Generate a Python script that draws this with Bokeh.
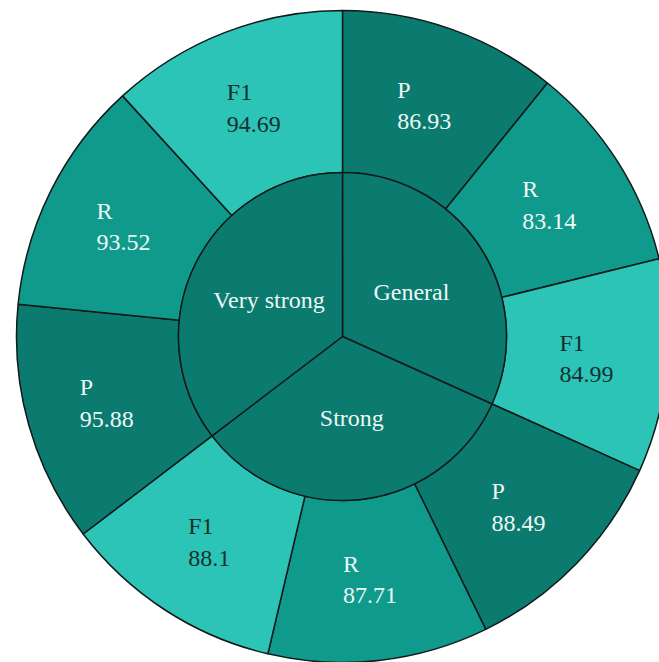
import math
from bokeh.plotting import figure
from bokeh.models import Range1d, ColumnDataSource
from bokeh.core.properties import value
from bokeh.embed import file_html
from bokeh.resources import INLINE

# ---- data ----
groups = ["General", "Strong", "Very strong"]
metrics = ["P", "R", "F1"]
general_values = [86.93, 83.14, 84.99]
strong_values = [88.49, 87.71, 88.1]
very_strong_values = [95.88, 93.52, 94.69]
value_labels = [["86.93", "83.14", "84.99"], ["88.49", "87.71", "88.1"], ["95.88", "93.52", "94.69"]]
group_values = [general_values, strong_values, very_strong_values]

# ---- style ----
W, H = 659, 662
CX, CY = 342, H - 336
R_OUT, R_IN = 326, 164
col = {"P": "#0b7a6f", "R": "#0f9a8c", "F1": "#2cc4b6"}
inner_col = "#0b7a6f"
txt_col = {"P": "#eef8f6", "R": "#eef8f6", "F1": "#15302f"}
FONT = "serif"
FS = 24

total = sum(sum(v) for v in group_values)

p = figure(width=W, height=H, x_range=Range1d(0, W), y_range=Range1d(0, H),
           output_backend="svg", toolbar_location=None, min_border=0,
           x_axis_location=None, y_axis_location=None)
p.grid.visible = False
p.outline_line_color = None
p.background_fill_color = "white"

def char_w(s):
    w = 0
    for ch in s:
        if ch in ". ":
            w += 0.25
        else:
            w += 0.5
    return w * FS

o = dict(x=[], y=[], s=[], e=[], c=[])
i_ = dict(x=[], y=[], s=[], e=[], c=[])
lab1 = dict(x=[], y=[], t=[], c=[], off=[])
lab2 = dict(x=[], y=[], t=[], c=[], off=[])
glab = dict(x=[], y=[], t=[])

ang = math.pi / 2
for gi, g in enumerate(groups):
    vals = group_values[gi]
    gspan = sum(vals) / total * 2 * math.pi
    g_start = ang
    g_end = ang - gspan
    i_["x"].append(CX); i_["y"].append(CY)
    i_["s"].append(g_end); i_["e"].append(g_start); i_["c"].append(inner_col)
    gm = (g_start + g_end) / 2
    glab["x"].append(CX + 82 * math.cos(gm)); glab["y"].append(CY + 82 * math.sin(gm)); glab["t"].append(g)
    a = g_start
    for mi, m in enumerate(metrics):
        span = vals[mi] / total * 2 * math.pi
        s, e = a - span, a
        o["x"].append(CX); o["y"].append(CY)
        o["s"].append(s); o["e"].append(e); o["c"].append(col[m])
        mid = (s + e) / 2
        rm = (R_OUT + R_IN) / 2
        tx = CX + rm * math.cos(mid)
        ty = CY + rm * math.sin(mid)
        vl = value_labels[gi][mi]
        bw = char_w(vl)
        lab1["x"].append(tx); lab1["y"].append(ty + 16); lab1["t"].append(m)
        lab1["c"].append(txt_col[m]); lab1["off"].append(-bw / 2)
        lab2["x"].append(tx); lab2["y"].append(ty - 16); lab2["t"].append(vl)
        lab2["c"].append(txt_col[m]); lab2["off"].append(-bw / 2)
        a = s
    ang = g_end

p.annular_wedge(x="x", y="y", inner_radius=R_IN, outer_radius=R_OUT,
                start_angle="s", end_angle="e", fill_color="c",
                line_color="#111a1a", line_width=1.5, source=ColumnDataSource(o))
p.wedge(x="x", y="y", radius=R_IN, start_angle="s", end_angle="e",
        fill_color="c", line_color="#111a1a", line_width=1.5, source=ColumnDataSource(i_))

for d in (lab1, lab2):
    p.text(x="x", y="y", text="t", text_color="c", x_offset="off",
           text_align="left", text_baseline="middle",
           text_font=value(FONT), text_font_size=f"{FS}px",
           source=ColumnDataSource(d))

p.text(x="x", y="y", text="t", text_color="#eef8f6", text_align="center",
       text_baseline="middle", text_font=value(FONT), text_font_size=f"{FS}px",
       source=ColumnDataSource(glab))

open("out.html", "w").write(file_html(p, INLINE))
